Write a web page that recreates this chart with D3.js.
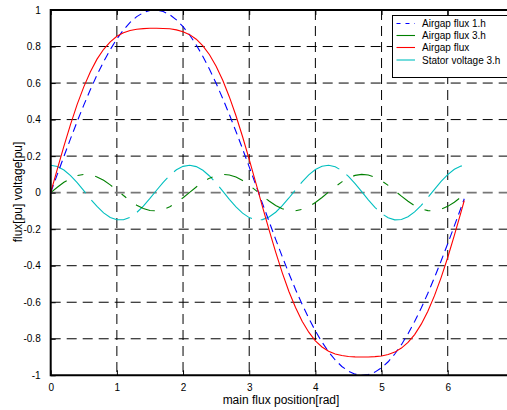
<!DOCTYPE html>
<html>
<head>
<meta charset="utf-8">
<script src="https://cdn.jsdelivr.net/npm/d3@7"></script>
<style>
html,body{margin:0;padding:0;background:#fff;overflow:hidden}
text{font-family:"Liberation Sans",Arial,sans-serif;fill:#000}
</style>
</head>
<body>
<svg id="chart" width="507" height="410"></svg>
<script>
// sample positions [rad]
const xPos = [0,0.1,0.2,0.3,0.4,0.5,0.6,0.7,0.8,0.9,1.0,1.1,1.2,1.3,1.4,1.5,1.6,1.7,1.8,1.9,2.0,2.1,2.2,2.3,2.4,2.5,2.6,2.7,2.8,2.9,3.0,3.1,3.2,3.3,3.4,3.5,3.6,3.7,3.8,3.9,4.0,4.1,4.2,4.3,4.4,4.5,4.6,4.7,4.8,4.9,5.0,5.1,5.2,5.3,5.4,5.5,5.6,5.7,5.8,5.9,6.0,6.1,6.2,6.25];
// Airgap flux 1.h
const flux1h = [0,0.0998,0.1987,0.2955,0.3894,0.4794,0.5646,0.6442,0.7174,0.7833,0.8415,0.8912,0.9320,0.9636,0.9854,0.9975,0.9996,0.9917,0.9738,0.9463,0.9093,0.8632,0.8085,0.7457,0.6755,0.5985,0.5155,0.4274,0.3350,0.2392,0.1411,0.0416,-0.0584,-0.1577,-0.2555,-0.3508,-0.4425,-0.5298,-0.6119,-0.6878,-0.7568,-0.8183,-0.8716,-0.9162,-0.9516,-0.9775,-0.9937,-0.9999,-0.9962,-0.9825,-0.9589,-0.9258,-0.8835,-0.8323,-0.7728,-0.7055,-0.6313,-0.5507,-0.4646,-0.3739,-0.2794,-0.1822,-0.0831,-0.0332];
// Airgap flux 3.h
const flux3h = [0,0.0296,0.0565,0.0783,0.0932,0.0998,0.0974,0.0863,0.0676,0.0427,0.0141,-0.0158,-0.0443,-0.0688,-0.0872,-0.0978,-0.0996,-0.0926,-0.0773,-0.0551,-0.0279,0.0017,0.0312,0.0578,0.0794,0.0938,0.0999,0.0970,0.0855,0.0663,0.0412,0.0125,-0.0174,-0.0458,-0.0700,-0.0880,-0.0981,-0.0994,-0.0919,-0.0762,-0.0537,-0.0263,0.0034,0.0328,0.0592,0.0804,0.0944,0.0999,0.0966,0.0846,0.0650,0.0397,0.0108,-0.0191,-0.0472,-0.0712,-0.0888,-0.0984,-0.0993,-0.0913,-0.0751,-0.0522,-0.0247,-0.0099];
// Airgap flux
const fluxTotal = [0,0.129,0.255,0.374,0.483,0.579,0.662,0.731,0.785,0.826,0.856,0.875,0.888,0.895,0.898,0.900,0.900,0.899,0.897,0.891,0.881,0.865,0.840,0.804,0.755,0.692,0.615,0.524,0.421,0.306,0.182,0.054,-0.076,-0.204,-0.326,-0.439,-0.541,-0.629,-0.704,-0.764,-0.811,-0.845,-0.868,-0.883,-0.892,-0.897,-0.899,-0.900,-0.900,-0.898,-0.894,-0.886,-0.873,-0.851,-0.820,-0.777,-0.720,-0.649,-0.564,-0.465,-0.355,-0.234,-0.108,-0.043];
// Stator voltage 3.h
const volt3h = [0.150,0.1433,0.1238,0.0932,0.0544,0.0106,-0.0341,-0.0757,-0.1106,-0.1356,-0.1485,-0.1481,-0.1345,-0.1089,-0.0735,-0.0316,0.0131,0.0567,0.0952,0.1252,0.1440,0.1500,0.1425,0.1224,0.0913,0.0519,0.0081,-0.0365,-0.0779,-0.1123,-0.1367,-0.1488,-0.1477,-0.1334,-0.1071,-0.0713,-0.0292,0.0156,0.0590,0.0972,0.1266,0.1447,0.1499,0.1417,0.1209,0.0892,0.0496,0.0056,-0.0390,-0.0801,-0.1140,-0.1377,-0.1491,-0.1472,-0.1322,-0.1054,-0.0691,-0.0267,0.0181,0.0612,0.0991,0.1279,0.1454,0.1493];

const xTicks = [0,1,2,3,4,5,6];
const xTickLabels = ["0","1","2","3","4","5","6"];
const yTicks = [-1,-0.8,-0.6,-0.4,-0.2,0,0.2,0.4,0.6,0.8,1];
const yTickLabels = ["-1","-0.8","-0.6","-0.4","-0.2","0","0.2","0.4","0.6","0.8","1"];
const seriesNames = ["Airgap flux 1.h","Airgap flux 3.h","Airgap flux","Stator voltage 3.h"];

(function(){
const svg = d3.select("#chart");
const pLeft = 50.7, pTop = 10, pBottom = 375.3;
const x = d3.scaleLinear().domain([0,7]).range([pLeft, pLeft + 7*66.17]);
const y = d3.scaleLinear().domain([-1,1]).range([pBottom, pTop]);
const pRight = x(7);

// grid
const grid = svg.append("g");
xTicks.filter(d => d !== 0).forEach(d => {
  grid.append("line").attr("x1", x(d)).attr("x2", x(d)).attr("y1", pTop).attr("y2", pBottom)
    .attr("stroke", "#000").attr("stroke-width", 1).attr("stroke-dasharray", "10,6");
});
yTicks.filter(d => d !== -1 && d !== 1).forEach(d => {
  grid.append("line").attr("x1", pLeft).attr("x2", pRight).attr("y1", y(d)).attr("y2", y(d))
    .attr("stroke", d === 0 ? "#777" : "#000").attr("stroke-width", d === 0 ? 1.6 : 1)
    .attr("stroke-dasharray", "10,6");
});

// axes
const xAxisB = d3.axisBottom(x).tickValues(xTicks).tickFormat((d,i) => xTickLabels[i]).tickSize(-5).tickPadding(9);
const xAxisT = d3.axisTop(x).tickValues(xTicks).tickFormat("").tickSize(-5);
const yAxisL = d3.axisLeft(y).tickValues(yTicks).tickFormat((d,i) => yTickLabels[i]).tickSize(-5).tickPadding(10);

function style(g){
  g.select(".domain").remove();
  g.selectAll(".tick line").attr("stroke", "#000").attr("stroke-width", 1);
  g.selectAll("text").attr("font-size", 10).attr("fill", "#000").style("font-family", '"Liberation Sans",Arial,sans-serif');
}
svg.append("g").attr("transform", `translate(0,${pBottom})`).call(xAxisB).call(style);
svg.append("g").attr("transform", `translate(0,${pTop})`).call(xAxisT).call(style);
svg.append("g").attr("transform", `translate(${pLeft},0)`).call(yAxisL).call(style);

// series
const line = vals => d3.line().x((d,i) => x(xPos[i])).y(d => y(d))(vals);
const specs = [
  {vals: flux1h, color: "#0000ff", dash: "8,5"},
  {vals: flux3h, color: "#008000", dash: "20,12,6,12"},
  {vals: fluxTotal, color: "#ff0000", dash: null},
  {vals: volt3h, color: "#00bfbf", dash: "46,9"}
];
const plot = svg.append("g");
[specs[3], specs[1], specs[0], specs[2]].forEach(s => {
  plot.append("path").attr("d", line(s.vals)).attr("fill", "none")
    .attr("stroke", s.color).attr("stroke-width", 1.1)
    .attr("stroke-dasharray", s.dash);
});

// frame
svg.append("path").attr("d", `M${pRight},${pTop}H${pLeft}V${pBottom}H${pRight}`)
  .attr("fill", "none").attr("stroke", "#000").attr("stroke-width", 2);

// legend
const lg = svg.append("g");
lg.append("rect").attr("x", 392.5).attr("y", 15.5).attr("width", 130).attr("height", 62)
  .attr("fill", "#fff").attr("stroke", "#000").attr("stroke-width", 1);
const legendRows = [23.5, 35.5, 47.5, 60];
seriesNames.forEach((name, i) => {
  const s = specs[i];
  lg.append("line").attr("x1", 396.5).attr("x2", 415).attr("y1", legendRows[i]).attr("y2", legendRows[i])
    .attr("stroke", s.color).attr("stroke-width", 1.1)
    .attr("stroke-dasharray", i === 0 ? "4,5" : null);
  lg.append("text").attr("x", 422).attr("y", legendRows[i] + 3.6).attr("font-size", 10).text(name);
});

// labels
svg.append("text").attr("x", 281).attr("y", 404).attr("text-anchor", "middle")
  .attr("font-size", 12).text("main flux position[rad]");
svg.append("text").attr("transform", "translate(22,192) rotate(-90)").attr("text-anchor", "middle")
  .attr("font-size", 12).text("flux[pu] voltage[pu]");
})();
</script>
</body>
</html>
